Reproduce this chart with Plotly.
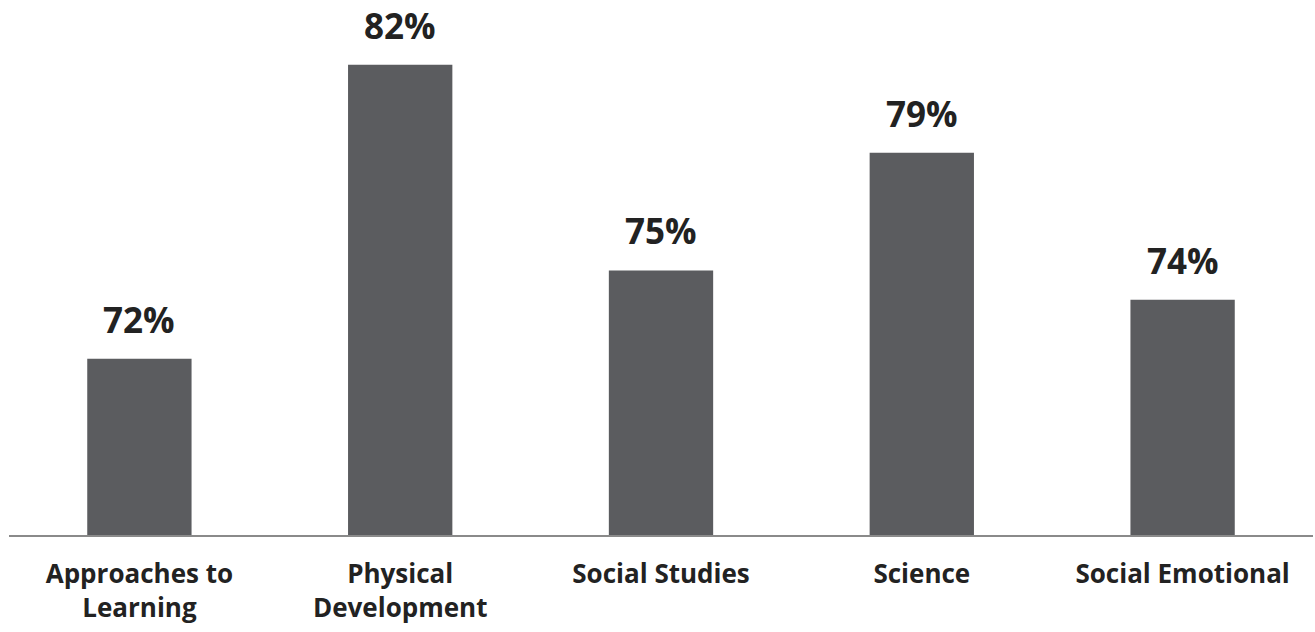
import plotly.graph_objects as go

categories = ["Approaches to<br>Learning", "Physical<br>Development", "Social Studies", "Science", "Social Emotional"]
values = [72, 82, 75, 79, 74]
labels = ["72%", "82%", "75%", "79%", "74%"]

bar_color = "#5b5c5f"
text_color = "#222222"
font_family = "'Open Sans', Lato, sans-serif"

fig = go.Figure(
    go.Bar(
        x=categories,
        y=values,
        base=0,
        marker=dict(color=bar_color, line=dict(width=0)),
        hoverinfo="skip",
    )
)

for cat, val, lab in zip(categories, values, labels):
    fig.add_annotation(
        x=cat, y=val, text=f"<b>{lab}</b>", showarrow=False,
        yanchor="bottom", yshift=14,
        font=dict(family=font_family, size=35, color=text_color),
    )

fig.update_layout(
    width=1315, height=632,
    margin=dict(l=9, r=2, t=0, b=97),
    paper_bgcolor="white", plot_bgcolor="white",
    bargap=0.6,
    showlegend=False,
    font=dict(family=font_family, color=text_color),
)
fig.update_xaxes(
    showline=True, linecolor="#8a8a8a", linewidth=1.5,
    showgrid=False, ticks="", ticklabelstandoff=15,
    tickfont=dict(family=font_family, size=26, color=text_color, weight="bold"),
)
fig.update_yaxes(
    range=[66, 84.2], showgrid=False, zeroline=False,
    showticklabels=False, showline=False,
)

fig.write_html("out.html")
